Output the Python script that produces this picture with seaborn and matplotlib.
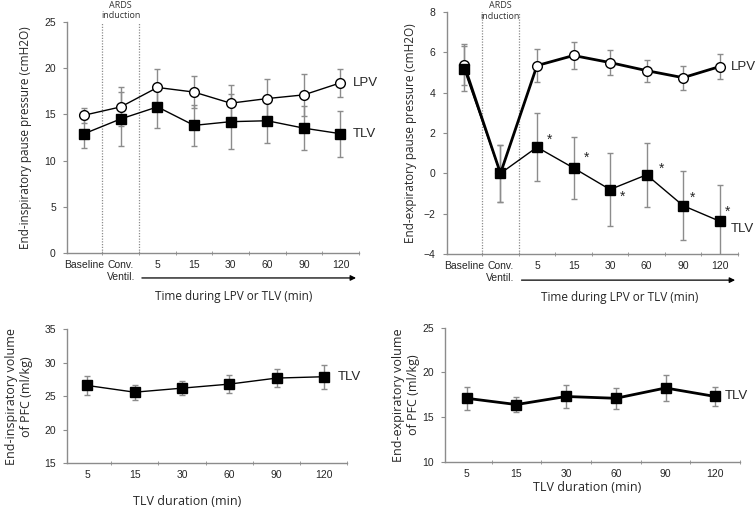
import numpy as np
import seaborn as sns
import matplotlib.pyplot as plt

# top panels: pause pressures
phases = ['Baseline', 'Conv.\nVentil.', '5', '15', '30', '60', '90', '120']
insp_lpv = [14.9, 15.8, 17.9, 17.4, 16.2, 16.7, 17.1, 18.4]
insp_lpv_sd = [0.8, 2.1, 2.0, 1.7, 2.0, 2.1, 2.3, 1.5]
insp_tlv = [12.9, 14.5, 15.8, 13.8, 14.2, 14.3, 13.5, 12.9]
insp_tlv_sd = [1.6, 2.9, 2.3, 2.2, 3.0, 2.4, 2.4, 2.5]

exp_lpv = [5.4, 0.0, 5.35, 5.85, 5.5, 5.1, 4.75, 5.3]
exp_lpv_sd = [1.0, 1.4, 0.8, 0.65, 0.6, 0.55, 0.6, 0.6]
exp_tlv = [5.2, 0.0, 1.3, 0.27, -0.8, -0.07, -1.6, -2.37]
exp_tlv_sd = [1.1, 1.4, 1.7, 1.55, 1.8, 1.6, 1.7, 1.8]
exp_star = [False, False, True, True, True, True, True, True]

# bottom panels: PFC volumes during TLV
durations = ['5', '15', '30', '60', '90', '120']
vol_insp = [26.6, 25.6, 26.2, 26.8, 27.7, 27.9]
vol_insp_sd = [1.45, 1.1, 1.0, 1.3, 1.4, 1.8]
vol_exp = [17.1, 16.4, 17.3, 17.1, 18.25, 17.3]
vol_exp_sd = [1.3, 0.8, 1.3, 1.2, 1.5, 1.1]

sns.set_style('ticks')
plt.rcParams['font.family'] = ['Liberation Sans', 'DejaVu Sans']
LABEL_FONT = ['Open Sans', 'DejaVu Sans']
GREY = '#8c8c8c'

fig = plt.figure(figsize=(7.56, 5.07), dpi=100)
ax_tl = fig.add_axes([0.0886, 0.501, 0.386, 0.456])
ax_tr = fig.add_axes([0.591, 0.499, 0.385, 0.477])
ax_bl = fig.add_axes([0.0886, 0.086, 0.371, 0.265])
ax_br = fig.add_axes([0.589, 0.089, 0.390, 0.265])


def series(ax, y, sd, marker, face, lw, ms, z=3):
    x = np.arange(len(y))
    ax.errorbar(x, y, yerr=sd, fmt='none', ecolor=GREY, elinewidth=1,
                capsize=2, capthick=1, zorder=1)
    sns.lineplot(x=x, y=y, ax=ax, color='black', lw=lw, marker=marker,
                 markersize=ms, markerfacecolor=face, markeredgecolor='black',
                 markeredgewidth=1, zorder=z)


def style_axes(ax, labels, ylim, yticks, xlim):
    n = len(labels)
    ax.set_xlim(*xlim)
    ax.set_ylim(*ylim)
    ax.set_yticks(yticks)
    ax.set_xticks(np.arange(n))
    ax.set_xticklabels(labels, fontsize=7.5)
    ax.set_xticks(np.arange(0.5, n), minor=True)
    ax.tick_params(axis='x', which='major', length=0, pad=5)
    ax.tick_params(axis='x', which='minor', length=3, color=GREY, direction='inout')
    ax.tick_params(axis='y', labelsize=7.5, length=3, color=GREY, pad=5)
    for s in ['top', 'right']:
        ax.spines[s].set_visible(False)
    for s in ['left', 'bottom']:
        ax.spines[s].set_color(GREY)
        ax.spines[s].set_linewidth(1)
    ax.set_xlabel('')
    ax.set_ylabel('')


def ards_marks(ax, text_y):
    for xv in [0.5, 1.5]:
        ax.axvline(xv, color=GREY, lw=0.9, ls=(0, (1, 1.2)), zorder=0)
    ax.text(1.0, text_y, 'ARDS\ninduction', transform=ax.get_xaxis_transform(),
            ha='center', va='center', fontsize=6.5, color='#333333',
            family=LABEL_FONT, linespacing=1.2)
    ax.annotate('', xy=(7.5, -0.108), xytext=(1.5, -0.108),
                xycoords=ax.get_xaxis_transform(),
                arrowprops=dict(arrowstyle='-|>', color='black', lw=0.9,
                                mutation_scale=8))


# top left
series(ax_tl, insp_tlv, insp_tlv_sd, 's', 'black', 1, 7.5)
series(ax_tl, insp_lpv, insp_lpv_sd, 'o', 'white', 1, 7)
style_axes(ax_tl, phases, (0, 25), range(0, 26, 5), (-0.47, 7.5))
ards_marks(ax_tl, 1.05)
ax_tl.text(7.33, insp_lpv[-1], 'LPV', fontsize=9.5, va='center')
ax_tl.text(7.33, insp_tlv[-1], 'TLV', fontsize=9.5, va='center')
ax_tl.set_ylabel('End-inspiratory pause pressure (cmH2O)', fontsize=8.5,
                 family=LABEL_FONT, labelpad=9)
ax_tl.text(0.57, -0.19, 'Time during LPV or TLV (min)', transform=ax_tl.transAxes,
           ha='center', va='center', fontsize=8.5, family=LABEL_FONT)

# top right
series(ax_tr, exp_lpv, exp_lpv_sd, 'o', 'white', 2, 7, z=3)
series(ax_tr, exp_tlv, exp_tlv_sd, 's', 'black', 1, 7.5, z=4)
style_axes(ax_tr, phases, (-4, 8), range(-4, 9, 2), (-0.47, 7.5))
ards_marks(ax_tr, 1.005)
star_offsets = [(0, 0), (0, 0), (9, 5), (9, 7), (9, -5), (11, 4), (7, 6), (6, 7)]
for i, (yv, st) in enumerate(zip(exp_tlv, exp_star)):
    if st:
        ax_tr.annotate('*', (i, yv), xytext=star_offsets[i], textcoords='offset points',
                       ha='center', va='center', fontsize=10)
ax_tr.text(7.3, exp_lpv[-1], 'LPV', fontsize=9.5, va='center')
ax_tr.text(7.3, exp_tlv[-1] - 0.4, 'TLV', fontsize=9.5, va='center')
ax_tr.set_ylabel('End-expiratory pause pressure (cmH2O)', fontsize=8.5,
                 family=LABEL_FONT, labelpad=5)
ax_tr.text(0.594, -0.18, 'Time during LPV or TLV (min)', transform=ax_tr.transAxes,
           ha='center', va='center', fontsize=8.5, family=LABEL_FONT)

# bottom left
series(ax_bl, vol_insp, vol_insp_sd, 's', 'black', 1, 7.5)
style_axes(ax_bl, durations, (15, 35), range(15, 36, 5), (-0.43, 5.33))
ax_bl.text(5.3, vol_insp[-1], 'TLV', fontsize=9.5, va='center')
ax_bl.set_ylabel('End-inspiratory volume\nof PFC (ml/kg)', fontsize=9,
                 family=LABEL_FONT, labelpad=8)
ax_bl.text(0.43, -0.28, 'TLV duration (min)', transform=ax_bl.transAxes,
           ha='center', va='center', fontsize=9, family=LABEL_FONT)

# bottom right
series(ax_br, vol_exp, vol_exp_sd, 's', 'black', 2, 7.5)
style_axes(ax_br, durations, (10, 25), range(10, 26, 5), (-0.43, 5.37))
ax_br.text(5.2, vol_exp[-1], 'TLV', fontsize=9.5, va='center')
ax_br.set_ylabel('End-expiratory volume\nof PFC (ml/kg)', fontsize=9,
                 family=LABEL_FONT, labelpad=2)
ax_br.text(0.48, -0.19, 'TLV duration (min)', transform=ax_br.transAxes,
           ha='center', va='center', fontsize=9, family=LABEL_FONT)

fig.savefig('out.png', dpi=100, facecolor='white')
